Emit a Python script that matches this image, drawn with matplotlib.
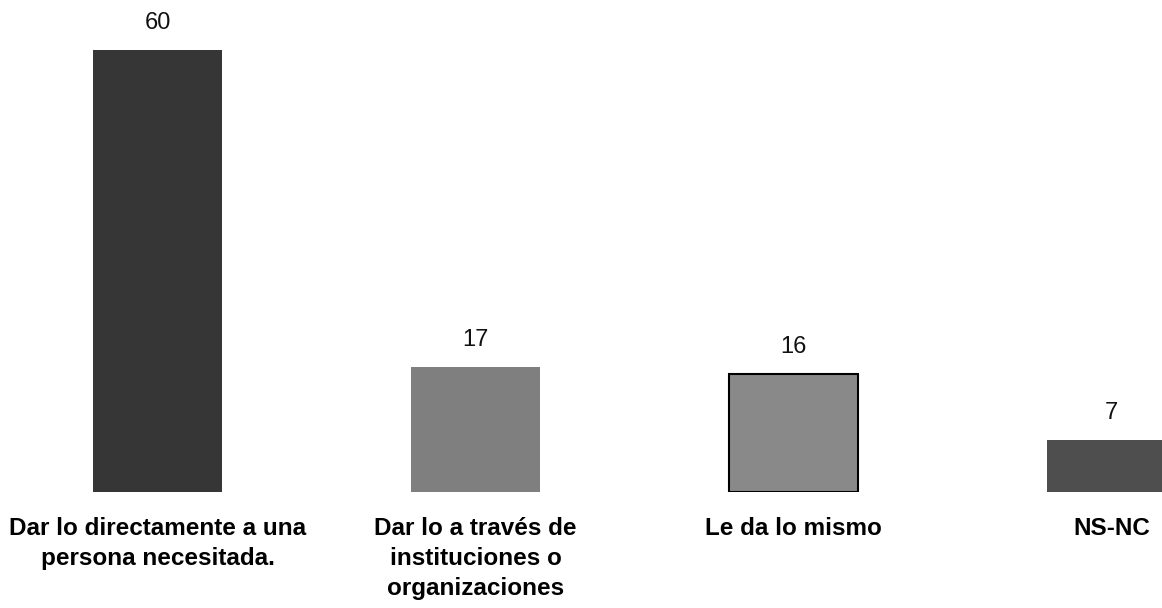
import matplotlib
matplotlib.use("Agg")
import matplotlib.pyplot as plt

categories = ["Dar lo directamente a una\npersona necesitada.",
              "Dar lo a través de\ninstituciones o\norganizaciones",
              "Le da lo mismo",
              "NS-NC"]
values = [60, 17, 16, 7]
bar_colors = ["#363636", "#7f7f7f", "#898989", "#4e4e4e"]
edge_colors = ["none", "none", "#000000", "none"]

fig = plt.figure(figsize=(11.62, 6.08), dpi=100)
ax = fig.add_axes([0, 116 / 608, 1, 492 / 608])

x = list(range(len(values)))
bars = ax.bar(x, values, width=129 / 318, color=bar_colors,
              edgecolor=edge_colors, linewidth=1.5)

ax.set_xlim((0 - 157.5) / 318, (1162 - 157.5) / 318)
ax.set_ylim(0, 492 / (442 / 60))
ax.axis("off")

num_font = ["Liberation Sans", "DejaVu Sans"]
for xi, v in zip(x, values):
    ax.annotate(f"{v}", (xi, v), xytext=(0, 19.5), textcoords="offset points",
                ha="center", va="center", fontsize=17, family=num_font,
                color="#111111")

for xi, lab in zip(x, categories):
    ax.annotate(lab, (xi, 0), xytext=(0, -18), textcoords="offset points",
                ha="center", va="top", fontsize=17.5, fontweight="bold",
                family=num_font, linespacing=1.38, color="#000000",
                annotation_clip=False)

fig.savefig("out.png", dpi=100)
